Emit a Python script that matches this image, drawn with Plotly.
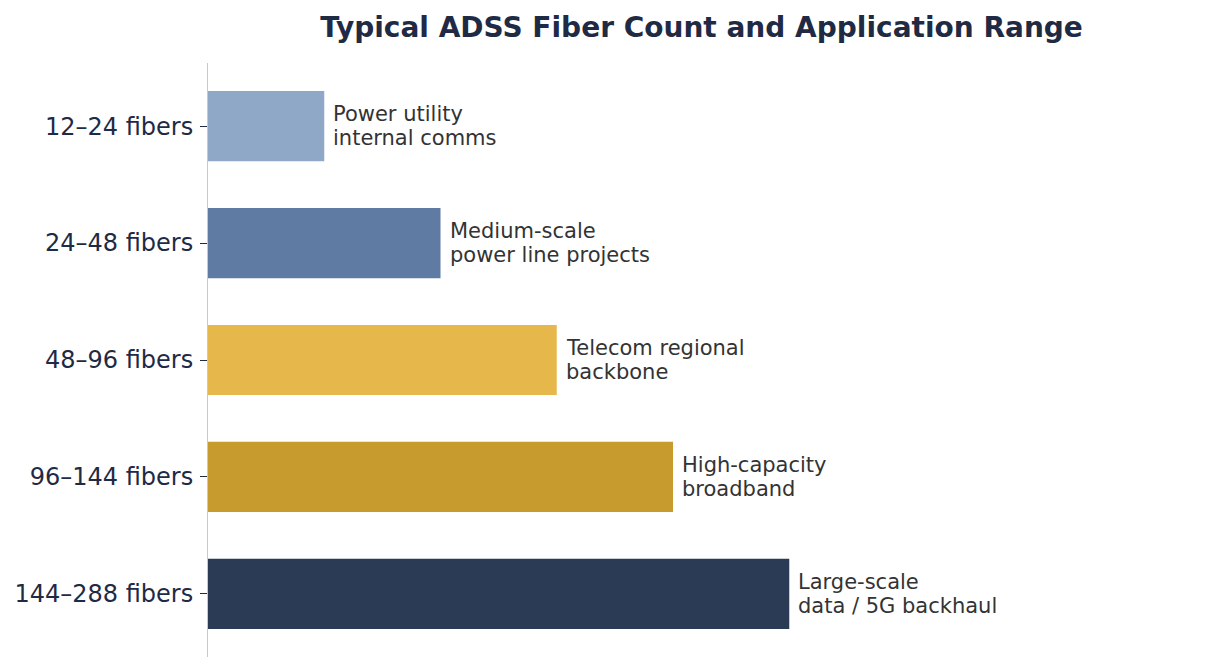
import plotly.graph_objects as go

categories = ["12–24 fibers", "24–48 fibers", "48–96 fibers", "96–144 fibers", "144–288 fibers"]
values = [1, 2, 3, 4, 5]
applications = [
    "Power utility<br>internal comms",
    "Medium-scale<br>power line projects",
    "Telecom regional<br>backbone",
    "High-capacity<br>broadband",
    "Large-scale<br>data / 5G backhaul",
]
colors = ["#8FA8C8", "#607BA3", "#E6B84B", "#C89B2E", "#2B3B55"]

fig = go.Figure()
fig.add_trace(go.Bar(
    x=values,
    y=categories,
    orientation="h",
    width=0.6,
    marker=dict(color=colors, line=dict(width=0)),
    hoverinfo="skip",
))

# two lines per label, drawn separately to get tighter line spacing
for cat, val, txt in zip(categories, values, applications):
    lines = txt.split("<br>")
    for i, line in enumerate(lines):
        fig.add_annotation(
            x=val, y=cat, text=line, showarrow=False,
            xanchor="left", align="left", xshift=7,
            yshift=12 - 24 * i,
            font=dict(family="DejaVu Sans", size=21, color="#333333"),
        )

fig.update_layout(
    width=1210, height=672,
    margin=dict(l=200, r=23, t=55, b=23),
    plot_bgcolor="white", paper_bgcolor="white",
    showlegend=False,
    title=dict(
        text="<b>Typical ADSS Fiber Count and Application Range</b>",
        x=0.5, xref="paper", xanchor="center", y=0.972, yanchor="middle",
        font=dict(family="DejaVu Sans", size=28, color="#1F2A44"),
    ),
)
fig.update_xaxes(range=[0, 8.49], visible=False, automargin=False)
fig.update_yaxes(
    autorange=False, range=[4.54, -0.54], automargin=False,
    showline=True, linecolor="#C8C8C8", linewidth=1,
    ticks="outside", ticklen=7, tickcolor="#1F2A44",
    ticklabelstandoff=2,
    tickfont=dict(family="DejaVu Sans", size=24, color="#1F2A44"),
    showgrid=False,
)

fig.write_html("out.html")
